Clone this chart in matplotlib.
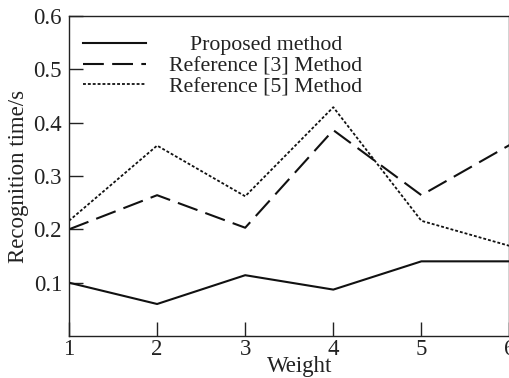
import matplotlib
matplotlib.use("Agg")
import matplotlib.pyplot as plt

plt.rcParams['font.family'] = ['Liberation Serif', 'DejaVu Serif']
plt.rcParams['font.size'] = 16.5

weights = [1, 2, 3, 4, 5, 6]
proposed = [0.100, 0.060, 0.114, 0.087, 0.140, 0.140]
ref3 = [0.200, 0.264, 0.203, 0.386, 0.264, 0.358]
ref5 = [0.216, 0.357, 0.262, 0.429, 0.216, 0.169]
labels = ["Proposed method", "Reference [3] Method", "Reference [5] Method"]
yticks = [0.1, 0.2, 0.3, 0.4, 0.5, 0.6]

fig = plt.figure(figsize=(5.10, 3.78), dpi=100)
ax = fig.add_axes([69 / 510, 42 / 378, 440.5 / 510, 320 / 378])

ink = '#111111'
ax.plot(weights, proposed, color=ink, lw=1.5, label=labels[0])
ax.plot(weights, ref3, color=ink, lw=1.5, dashes=(10, 4), label=labels[1])
ax.plot(weights, ref5, color=ink, lw=1.3, dashes=(1.6, 1.1), label=labels[2])

ax.set_xlim(1, 6)
ax.set_ylim(0, 0.6)
ax.set_xticks(weights)
ax.set_yticks(yticks)
ax.set_yticklabels([f"{v:.1f}" for v in yticks])
ax.tick_params(axis='both', direction='in', length=10, width=1.0,
               color='#222222', labelcolor='#222222')
ax.tick_params(axis='x', pad=2)
ax.tick_params(axis='y', pad=5)
for s in ax.spines.values():
    s.set_linewidth(1.0)
    s.set_color('#222222')

ax.set_xlabel("Weight", color='#222222')
ax.xaxis.set_label_coords(0.523, -0.062)
ax.set_ylabel("Recognition time/s", color='#222222', labelpad=3)

leg = ax.legend(loc='upper left', frameon=False, fontsize=15.7,
                handlelength=2.9, handletextpad=1.05, labelspacing=0.03,
                borderaxespad=0.25, bbox_to_anchor=(0.0, 0.985))
for t in leg.get_texts():
    t.set_color('#222222')

# centre each legend entry within the text column
fig.canvas.draw()
r = fig.canvas.get_renderer()
widths = [t.get_window_extent(r).width for t in leg.get_texts()]
wmax = max(widths)
for t, w in zip(leg.get_texts(), widths):
    t.set_position(((wmax - w) / 2, 0))

fig.savefig("out.png", dpi=100)
